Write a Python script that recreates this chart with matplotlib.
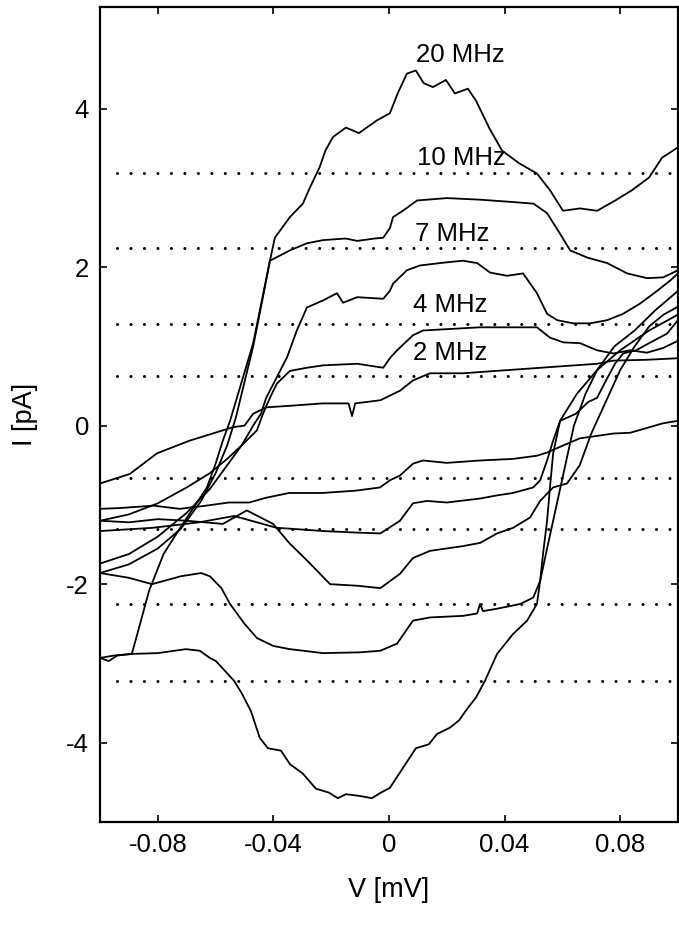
import numpy as np
import matplotlib
matplotlib.use('Agg')
import matplotlib.pyplot as plt

plt.rcParams['font.family'] = ['Liberation Sans', 'DejaVu Sans']
plt.rcParams['axes.unicode_minus'] = False


# 20 MHz
x_u20 = [-0.100, -0.095, -0.089, -0.0865, -0.083, -0.078, -0.0735, -0.069, -0.063, -0.060, -0.0575, -0.055,
         -0.051, -0.047, -0.0412, -0.0395, -0.0343, -0.0298, -0.0274, -0.024, -0.022, -0.0194, -0.0149, -0.0104,
         -0.0042, 0.0003, 0.003, 0.0062, 0.0093, 0.012, 0.0152, 0.0197, 0.0228, 0.0273, 0.0301, 0.0346, 0.0391,
         0.045, 0.0512, 0.0557, 0.0602, 0.0661, 0.072, 0.0783, 0.0841, 0.090, 0.0945, 0.100]
y_u20 = [-2.93, -2.90, -2.88, -2.55, -2.08, -1.62, -1.36, -1.11, -0.78, -0.48, -0.19, 0.06,
         0.55, 1.04, 2.08, 2.37, 2.63, 2.80, 3.00, 3.26, 3.47, 3.64, 3.76, 3.69,
         3.85, 3.94, 4.19, 4.44, 4.48, 4.32, 4.27, 4.36, 4.19, 4.25, 4.10, 3.76, 3.47,
         3.31, 3.18, 2.97, 2.71, 2.74, 2.71, 2.84, 2.97, 3.13, 3.38, 3.51]

x_l20 = [-0.100, -0.097, -0.094, -0.089, -0.080, -0.0703, -0.0655, -0.062, -0.0599, -0.0536, -0.0509, -0.0478,
         -0.0447, -0.0419, -0.0374, -0.0343, -0.0298, -0.0253, -0.0208, -0.0177, -0.0149, -0.0104, -0.0059,
         -0.0028, 0.0003, 0.0048, 0.0093, 0.0138, 0.0166, 0.0211, 0.0242, 0.0273, 0.0301, 0.0332, 0.0374,
         0.0429, 0.0478, 0.0512, 0.0523, 0.0533, 0.0547, 0.0557, 0.0568, 0.0592, 0.0647, 0.069, 0.072,
         0.0751, 0.0782, 0.081, 0.0855, 0.090, 0.0962, 0.100]
y_l20 = [-2.93, -2.97, -2.90, -2.88, -2.87, -2.82, -2.84, -2.93, -2.97, -3.22, -3.38, -3.60,
         -3.94, -4.07, -4.10, -4.27, -4.39, -4.58, -4.63, -4.70, -4.65, -4.67, -4.70,
         -4.63, -4.57, -4.32, -4.07, -4.02, -3.89, -3.81, -3.72, -3.56, -3.43, -3.22, -2.88,
         -2.63, -2.46, -2.25, -1.96, -1.62, -1.20, -0.78, -0.35, 0.06, 0.15, 0.30, 0.35,
         0.57, 0.78, 0.91, 0.95, 1.04, 1.16, 1.33]

# 10 MHz
x_u10 = [-0.100, -0.090, -0.080, -0.072, -0.065, -0.060, -0.056, -0.053, -0.050, -0.047, -0.044, -0.0412,
         -0.0343, -0.0284, -0.0228, -0.015, -0.011, -0.005, -0.002, 0.0003, 0.0014, 0.0048, 0.0097, 0.020,
         0.0315, 0.043, 0.050, 0.0547, 0.0592, 0.0627, 0.0686, 0.0755, 0.0824, 0.0893, 0.0949, 0.100]
y_u10 = [-1.86, -1.75, -1.55, -1.30, -0.95, -0.60, -0.25, 0.10, 0.55, 1.00, 1.55, 2.08,
         2.21, 2.30, 2.34, 2.36, 2.33, 2.36, 2.37, 2.49, 2.63, 2.71, 2.84, 2.87,
         2.85, 2.82, 2.80, 2.68, 2.42, 2.21, 2.12, 2.05, 1.92, 1.86, 1.87, 1.96]

x_l10 = [-0.100, -0.090, -0.082, -0.078, -0.072, -0.065, -0.062, -0.058, -0.055, -0.050, -0.0457, -0.040,
         -0.0343, -0.0228, -0.010, -0.003, 0.0028, 0.0083, 0.0142, 0.0256, 0.0305, 0.0315, 0.0325, 0.0374,
         0.0454, 0.0499, 0.0523, 0.055, 0.058, 0.061, 0.064, 0.068, 0.072, 0.078, 0.085, 0.092, 0.100]
y_l10 = [-1.86, -1.92, -2.00, -1.96, -1.90, -1.86, -1.90, -2.05, -2.25, -2.50, -2.68, -2.78,
         -2.82, -2.87, -2.86, -2.84, -2.75, -2.46, -2.42, -2.40, -2.37, -2.25, -2.34, -2.31,
         -2.25, -2.17, -1.96, -1.50, -1.00, -0.50, 0.00, 0.40, 0.70, 1.00, 1.20, 1.45, 1.70]

# 7 MHz
x_u7 = [-0.100, -0.090, -0.080, -0.070, -0.062, -0.056, -0.051, -0.047, -0.0443, -0.0425, -0.0353, -0.0319,
        -0.0284, -0.0228, -0.018, -0.0159, -0.011, -0.002, 0.0003, 0.0014, 0.0062, 0.0107, 0.020, 0.0256,
        0.0305, 0.035, 0.0409, 0.0464, 0.0512, 0.0547, 0.0582, 0.0637, 0.0696, 0.0755, 0.081, 0.0869,
        0.0928, 0.0973, 0.100]
y_u7 = [-1.74, -1.62, -1.40, -1.10, -0.80, -0.50, -0.25, 0.00, 0.15, 0.35, 0.86, 1.20,
        1.49, 1.58, 1.67, 1.55, 1.62, 1.60, 1.70, 1.79, 1.96, 2.02, 2.06, 2.08,
        2.05, 1.93, 1.89, 1.92, 1.67, 1.41, 1.33, 1.29, 1.29, 1.33, 1.41, 1.54,
        1.70, 1.83, 1.92]

x_l7 = [-0.100, -0.090, -0.080, -0.070, -0.0575, -0.0492, -0.0401, -0.0343, -0.0284, -0.0204, -0.011, -0.003,
        0.0038, 0.0083, 0.0142, 0.0256, 0.0315, 0.0374, 0.0429, 0.0488, 0.0523, 0.0568, 0.0616, 0.066,
        0.070, 0.075, 0.080, 0.085, 0.090, 0.095, 0.100]
y_l7 = [-1.20, -1.22, -1.18, -1.20, -1.24, -1.07, -1.24, -1.49, -1.70, -2.00, -2.02, -2.05,
        -1.87, -1.67, -1.58, -1.52, -1.48, -1.36, -1.29, -1.16, -0.95, -0.78, -0.73, -0.50,
        -0.10, 0.30, 0.70, 1.00, 1.25, 1.40, 1.50]

# 4 MHz
x_u4 = [-0.100, -0.090, -0.080, -0.070, -0.062, -0.056, -0.051, -0.0457, -0.0436, -0.0412, -0.0388, -0.0343,
        -0.0284, -0.0228, -0.011, -0.002, 0.0003, 0.0028, 0.0083, 0.0118, 0.0315, 0.0512, 0.0557, 0.0603,
        0.0661, 0.072, 0.0776, 0.0835, 0.0893, 0.0949, 0.100]
y_u4 = [-1.20, -1.12, -0.98, -0.78, -0.60, -0.42, -0.25, -0.06, 0.15, 0.35, 0.53, 0.69,
        0.73, 0.76, 0.78, 0.73, 0.85, 0.95, 1.14, 1.20, 1.24, 1.24, 1.11, 1.05,
        1.04, 0.95, 0.91, 0.95, 0.92, 0.98, 1.07]

x_l4 = [-0.100, -0.082, -0.0657, -0.0536, -0.0388, -0.0343, -0.0228, -0.011, -0.003, 0.0038, 0.0083, 0.0132,
        0.020, 0.0315, 0.0374, 0.0429, 0.0499, 0.0523, 0.0547, 0.0568, 0.0592, 0.065, 0.072, 0.080,
        0.090, 0.100]
y_l4 = [-1.33, -1.29, -1.22, -1.14, -1.29, -1.30, -1.33, -1.35, -1.36, -1.20, -0.98, -0.95,
        -0.97, -0.92, -0.88, -0.85, -0.78, -0.69, -0.44, -0.19, 0.06, 0.40, 0.70, 0.95,
        1.20, 1.40]

# 2 MHz
x_u2 = [-0.100, -0.0897, -0.0803, -0.069, -0.0575, -0.054, -0.050, -0.047, -0.0425, -0.0343, -0.023, -0.014,
        -0.0128, -0.0117, -0.003, 0.0038, 0.0083, 0.0142, 0.0256, 0.037, 0.0488, 0.0603, 0.072, 0.0776,
        0.089, 0.100]
y_u2 = [-0.73, -0.61, -0.35, -0.19, -0.06, -0.02, 0.00, 0.15, 0.23, 0.25, 0.28, 0.28,
        0.12, 0.28, 0.32, 0.44, 0.57, 0.66, 0.66, 0.69, 0.72, 0.75, 0.78, 0.82,
        0.83, 0.85]

x_l2 = [-0.100, -0.0932, -0.0814, -0.0724, -0.0633, -0.0554, -0.0484, -0.0425, -0.0346, -0.0231, -0.0114, -0.0031,
        0.0003, 0.0038, 0.0083, 0.0118, 0.020, 0.0315, 0.0429, 0.0512, 0.0547, 0.0603, 0.0661, 0.072,
        0.0776, 0.0835, 0.0949, 0.100]
y_l2 = [-1.05, -1.04, -1.01, -1.05, -1.01, -0.97, -0.97, -0.91, -0.85, -0.85, -0.82, -0.78,
        -0.69, -0.63, -0.48, -0.44, -0.47, -0.44, -0.42, -0.38, -0.34, -0.25, -0.16, -0.13,
        -0.10, -0.09, 0.03, 0.06]

# 点線の高さ
dot_levels = [3.19, 2.24, 1.28, 0.63, -0.66, -1.30, -2.25, -3.22]
dot_x = [-0.094, 0.100]

# 周波数ラベル
freq_labels = ['20 MHz', '10 MHz', '7 MHz', '4 MHz', '2 MHz']
label_x = [0.0093, 0.0096, 0.0090, 0.0083, 0.0083]
label_y = [4.67, 3.37, 2.42, 1.52, 0.92]

x_ticks = [-0.08, -0.04, 0, 0.04, 0.08]
x_ticklabels = ['-0.08', '-0.04', '0', '0.04', '0.08']
y_ticks = [-4, -2, 0, 2, 4]
y_ticklabels = ['-4', '-2', '0', '2', '4']


fig = plt.figure(figsize=(6.79, 9.27), dpi=100)
ax = fig.add_axes([0.1473, 0.1133, 0.8512, 0.8791])

#点線
for lev in dot_levels:
    ax.plot(dot_x, [lev, lev], color='black', lw=2.2, linestyle=(0, (0.01, 4.4)),
            dash_capstyle='round')

#ループ
curves = [(x_u20, y_u20), (x_l20, y_l20), (x_u10, y_u10), (x_l10, y_l10),
          (x_u7, y_u7), (x_l7, y_l7), (x_u4, y_u4), (x_l4, y_l4),
          (x_u2, y_u2), (x_l2, y_l2)]
for cx, cy in curves:
    ax.plot(cx, cy, color='black', lw=1.3)

for t, lx, ly in zip(freq_labels, label_x, label_y):
    ax.text(lx, ly, t, fontsize=18.5, ha='left', va='center')

ax.set_xlim(-0.1, 0.1)
ax.set_ylim(-5.0, 5.28)
ax.set_xticks(x_ticks)
ax.set_xticklabels(x_ticklabels)
ax.set_yticks(y_ticks)
ax.set_yticklabels(y_ticklabels)
ax.tick_params(direction='in', length=5, width=1.2, top=True, right=True,
               labelsize=18.5, pad=8)
for s in ax.spines.values():
    s.set_linewidth(1.6)

ax.set_xlabel('V [mV]', fontsize=19.5, labelpad=14)
ax.set_ylabel('I [pA]', fontsize=19.5, labelpad=20)

fig.savefig('out.png', dpi=100)
